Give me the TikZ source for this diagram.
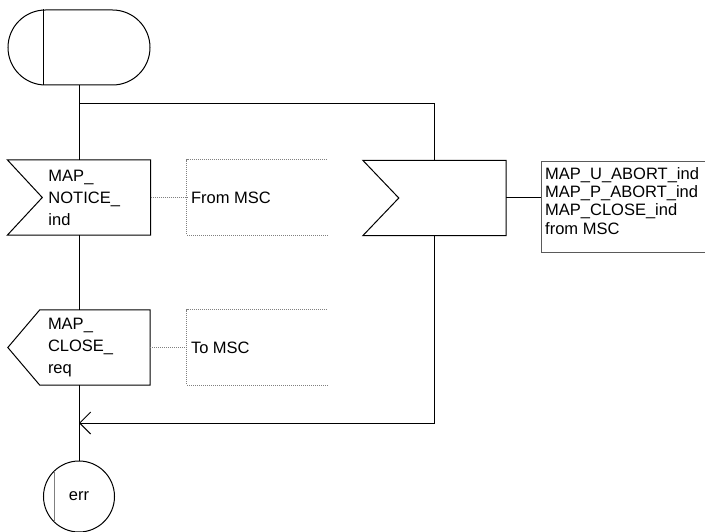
\documentclass[tikz,border=0pt]{standalone}
\usepackage{fontspec}
\setmainfont{Liberation Sans}
\usetikzlibrary{arrows.meta, positioning, calc}
\definecolor{dotgray}{RGB}{128,128,128}
\definecolor{boxgray}{RGB}{90,90,90}
\tikzset{
  symline/.style={draw=black, line width=1pt},
  startsym/.style={rectangle, draw=black, line width=1pt,
    rounded corners=37.5pt, minimum width=142pt, minimum height=75pt},
  sigbox/.style={rectangle, minimum width=143pt, minimum height=75pt, inner sep=0pt},
  outbox/.style={rectangle, minimum width=142pt, minimum height=75pt, inner sep=0pt},
  notebox/.style={rectangle, minimum width=140pt, minimum height=75pt, inner sep=0pt},
  sigtext/.style={anchor=west, align=left, inner sep=0pt,
    font=\fontsize{16.5}{22}\selectfont},
  listtext/.style={anchor=north west, align=left, inner sep=0pt,
    font=\fontsize{16.5}{18.3}\selectfont},
  dotline/.style={draw=dotgray, line width=1pt, dash pattern=on 1pt off 1pt},
  flow/.style={draw=black, line width=1pt},
  mgarrow/.style={-{Straight Barb[length=11pt, width=22pt, line width=1pt]}, flow},
  errsym/.style={circle, draw=black, line width=1pt, minimum size=71pt, inner sep=0pt,
    font=\fontsize{16.5}{20}\selectfont}
}

\begin{document}
\begin{tikzpicture}[x=1pt, y=-1pt]
  \useasboundingbox (0,0) rectangle (705,532);
  % Start symbol
  \node[startsym] (st) at (79,47.5) {};
  \draw[symline] ([xshift=36pt]st.north west) -- ([xshift=36pt]st.south west);
  % Input MAP_NOTICE_ind
  \node[sigbox] (nin) at (79,197.5) {};
  \draw[symline] (nin.north west) -- (nin.north east) -- (nin.south east)
    -- (nin.south west) -- ([xshift=35pt]nin.west) -- cycle;
  \node[sigtext] (tnin) at ([xshift=41pt]nin.west) {MAP\_\\NOTICE\_\\ind};
  % Comment From MSC
  \node[notebox] (cin) at (257,197.5) {};
  \draw[dotline] (cin.north east) -- (cin.north west) -- (cin.south west) -- (cin.south east);
  \node[sigtext] (tcin) at ([xshift=4pt]cin.west) {From MSC};
  \draw[dotline] (nin.east) -- (cin.west);
  % Output MAP_CLOSE_req
  \node[outbox] (nout) at (79,347.5) {};
  \draw[symline] ([xshift=32pt]nout.north west) -- (nout.north east) -- (nout.south east)
    -- ([xshift=32pt]nout.south west) -- (nout.west) -- cycle;
  \node[sigtext] (tnout) at ([xshift=40pt]nout.west) {MAP\_\\CLOSE\_\\req};
  % Comment To MSC
  \node[notebox] (cout) at (257,347.5) {};
  \draw[dotline] (cout.north east) -- (cout.north west) -- (cout.south west) -- (cout.south east);
  \node[sigtext] (tcout) at ([xshift=4pt]cout.west) {To MSC};
  \draw[dotline] (nout.east) -- (cout.west);
  % Input for abort / close
  \node[sigbox] (rin) at (434.5,198) {};
  \draw[symline] (rin.north west) -- (rin.north east) -- (rin.south east)
    -- (rin.south west) -- ([xshift=36pt]rin.west) -- cycle;
  \node[rectangle, draw=boxgray, line width=1pt, minimum width=170pt, minimum height=91pt,
    anchor=north west] (tb) at (541,161) {};
  \node[listtext] (ttb) at ([shift={(4,6)}]tb.north west)
    {MAP\_U\_ABORT\_ind\\MAP\_P\_ABORT\_ind\\MAP\_CLOSE\_ind\\from MSC};
  \draw[flow] (rin.east) -- (rin.east -| tb.west);
  % Terminator err
  \node[errsym] (err) at (79,496.5) {err};
  \draw[draw=dotgray, line width=1pt] ([xshift=-24.5pt, yshift=25.5pt]err.center)
    -- ([xshift=-24.5pt, yshift=-25.5pt]err.center);
  % Flow lines
  \coordinate (br) at (79,104);
  \coordinate (mg) at (79,423);
  \draw[flow] (st.south) -- (nin.north);
  \draw[flow] (br) -| (rin.north);
  \draw[flow] (nin.south) -- (nout.north);
  \draw[flow] (nout.south) -- (err.north);
  \draw[mgarrow] (rin.south) |- (mg);
\end{tikzpicture}
\end{document}
